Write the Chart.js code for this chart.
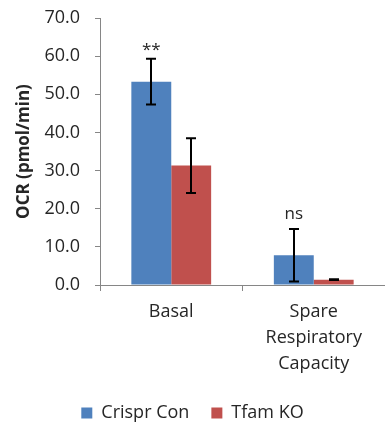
<!DOCTYPE html>
<html><head><meta charset="utf-8">
<script src="https://cdn.jsdelivr.net/npm/chart.js@4"></script>
<style>html,body{margin:0;padding:0;background:#fff}#wrap{width:385px;height:423px}</style>
</head><body><div id="wrap"><canvas id="c" width="385" height="423"></canvas></div>
<script>
const categories = ["Basal", ["Spare", "Respiratory", "Capacity"]];
const seriesNames = ["Crispr Con", "Tfam KO"];
const crisprCon = [53.3, 7.8];
const crisprConErr = [6.0, 6.9];
const tfamKO = [31.3, 1.4];
const tfamKOErr = [7.2, 0.1];
const significance = ["**", "ns"];
const yTicks = [0, 10, 20, 30, 40, 50, 60, 70];

const FONT = "'Open Sans', sans-serif";
const TXT = "#262626";

const errorBars = {
  id: 'errorBars',
  afterDatasetsDraw(chart) {
    const ctx = chart.ctx, y = chart.scales.y;
    const errs = [crisprConErr, tfamKOErr];
    ctx.save();
    ctx.strokeStyle = '#000'; ctx.lineWidth = 2;
    chart.data.datasets.forEach((ds, di) => {
      const meta = chart.getDatasetMeta(di);
      meta.data.forEach((bar, i) => {
        const v = ds.data[i], e = errs[di][i];
        const x = Math.round(bar.x);
        const yt = y.getPixelForValue(v + e), yb = y.getPixelForValue(v - e);
        ctx.beginPath();
        ctx.moveTo(x, yt); ctx.lineTo(x, yb);
        ctx.moveTo(x - 5, yt); ctx.lineTo(x + 5, yt);
        ctx.moveTo(x - 5, yb); ctx.lineTo(x + 5, yb);
        ctx.stroke();
      });
    });
    const meta0 = chart.getDatasetMeta(0);
    ctx.fillStyle = TXT; ctx.font = "17px " + FONT;
    ctx.textAlign = 'center'; ctx.textBaseline = 'alphabetic';
    meta0.data.forEach((bar, i) => {
      const yt = y.getPixelForValue(crisprCon[i] + crisprConErr[i]);
      const txt = significance[i];
      const off = txt.indexOf('*') >= 0 ? -4 : -10;
      ctx.fillText(txt, bar.x, yt + off);
    });
    ctx.restore();
  }
};

new Chart(document.getElementById('c'), {
  type: 'bar',
  data: {
    labels: categories,
    datasets: [
      { label: seriesNames[0], data: crisprCon, backgroundColor: '#4F81BD' },
      { label: seriesNames[1], data: tfamKO, backgroundColor: '#C0504D' }
    ]
  },
  options: {
    responsive: false, animation: false,
    layout: { padding: { top: 18, right: 0, left: 0, bottom: -9 } },
    datasets: { bar: { categoryPercentage: 0.56, barPercentage: 1.0 } },
    plugins: {
      legend: {
        position: 'bottom',
        labels: { font: { family: FONT, size: 18 }, color: TXT, boxWidth: 11, boxHeight: 11, padding: 22 }
      },
      tooltip: { enabled: false }
    },
    scales: {
      x: {
        grid: { display: true, drawOnChartArea: false, drawTicks: true, tickLength: 6, color: '#868686', offset: true },
        border: { display: true, color: '#868686', width: 1 },
        ticks: { font: { family: FONT, size: 18, lineHeight: 1.45 }, color: TXT, padding: 8, maxRotation: 0 },
        afterFit(s) { s.height = 97; s.paddingLeft = 0; s.paddingRight = 0; }
      },
      y: {
        min: 0, max: 70,
        afterBuildTicks(s) { s.ticks = yTicks.map(v => ({ value: v })); },
        grid: { display: true, drawOnChartArea: false, drawTicks: true, tickLength: 5, color: '#868686' },
        border: { display: true, color: '#868686', width: 1 },
        ticks: { font: { family: FONT, size: 18 }, color: TXT, padding: 15, callback: v => v.toFixed(1) },
        title: { display: true, text: 'OCR (pmol/min)', font: { family: FONT, size: 17, weight: 'bold' }, color: TXT, padding: { top: 14, bottom: 0 } },
        afterFit(s) { s.width = 100; s.paddingTop = 0; s.paddingBottom = 0; }
      }
    }
  },
  plugins: [errorBars]
});
</script></body></html>
